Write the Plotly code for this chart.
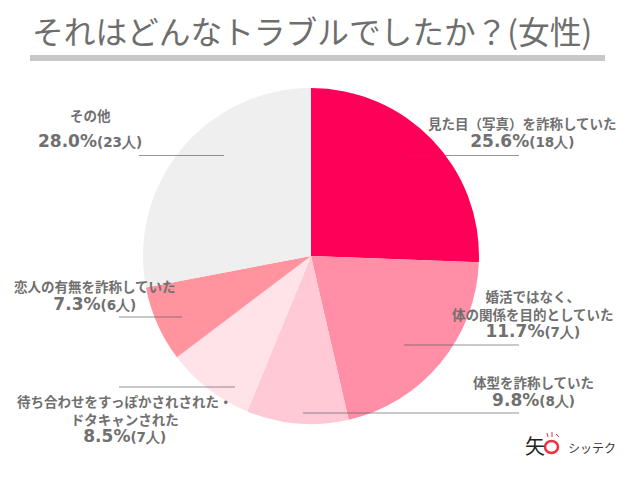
import plotly.graph_objects as go

# Slice sizes as drawn; the printed labels are kept separately since the
# second label (11.7%) does not match its wedge in the original chart
categories = ['見た目（写真）を詐称していた', '婚活ではなく、<br>体の関係を目的としていた', '体型を詐称していた',
              '待ち合わせをすっぽかされされた・<br>ドタキャンされた', '恋人の有無を詐称していた', 'その他']
values = [25.6, 20.8, 9.8, 8.5, 7.3, 28.0]
percent_labels = ['25.6%', '11.7%', '9.8%', '8.5%', '7.3%', '28.0%']
count_labels = ['(18人)', '(7人)', '(8人)', '(7人)', '(6人)', '(23人)']
colors = ['#ff0059', '#ff8ea6', '#ffc9d6', '#ffe3e9', '#ff949e', '#efefef']

W, H = 640, 499
FONT = 'Noto Sans CJK JP'
TEXT = '#707070'


def px(x):
    return x / W


def py(y):
    return 1 - y / H


# centre x and centre y of each label block
label_pos = [(522, 132), (533, 313), (533, 390.5), (124, 418), (95, 295), (90, 128)]
# leader line x from, x to, y
leaders = [(404, 519, 155.5), (404, 519, 345), (303, 519, 413), (119, 235, 387), (119, 182, 317), (139, 224, 155.5)]

fig = go.Figure(go.Pie(
    labels=categories,
    values=values,
    sort=False,
    direction='clockwise',
    rotation=0,
    textinfo='none',
    hoverinfo='label+percent',
    marker=dict(colors=colors, line=dict(width=0)),
    domain=dict(x=[px(143), px(479)], y=[py(424), py(88)]),
    showlegend=False,
))


def add_text(x, y, text, family=FONT, size=13.5, color=TEXT):
    fig.add_annotation(x=px(x), y=py(y), xref='paper', yref='paper', xanchor='center', yanchor='middle',
                       text=text, showarrow=False, align='center', borderpad=0,
                       font=dict(family=family, size=size, color=color))


def add_line(x0, x1, y0, y1, color, width=1):
    fig.add_shape(type='line', xref='paper', yref='paper', x0=px(x0), x1=px(x1), y0=py(y0), y1=py(y1),
                  line=dict(color=color, width=width))


fig.add_annotation(x=px(30), y=py(30), xref='paper', yref='paper', xanchor='left', yanchor='middle',
                   text='それはどんなトラブルでしたか？(女性)', showarrow=False,
                   font=dict(family=FONT, size=31.7, color='#6e6e6e'))
fig.add_shape(type='rect', xref='paper', yref='paper', x0=px(30), x1=px(605), y0=py(61), y1=py(55),
              fillcolor='#c8c8c8', line_width=0)

for cat, pct, cnt, (cx, cy), (x0, x1, ly) in zip(categories, percent_labels, count_labels, label_pos, leaders):
    pct_text = (f'<b><span style="font-family:DejaVu Sans;font-size:17px">{pct}</span>'
                f'<span style="font-family:DejaVu Sans;font-size:13.5px">{cnt}</span></b>')
    if cat == 'その他':
        # this one has a wider gap between its two lines
        add_text(cx, 115, f'<b>{cat}</b>')
        add_text(cx, 141, pct_text)
    else:
        add_text(cx, cy, f'<b>{cat}</b><br>{pct_text}')
    add_line(x0, x1, ly, ly, 'rgba(90,90,90,0.65)')

# small logo in the lower right corner
add_text(535, 445, '矢', size=20, color='#222222')
fig.add_shape(type='circle', xref='paper', yref='paper', x0=px(545), x1=px(558), y0=py(453), y1=py(441),
              fillcolor='#ffffff', line=dict(color='#f0323c', width=2.5))
for x0, x1, y0, y1 in [(547, 548, 433, 437), (552, 552, 432, 437), (556, 559, 434, 437)]:
    add_line(x0, x1, y0, y1, '#f0323c')
add_text(592, 447, 'シッテク', size=12, color='#333333')

fig.update_layout(width=W, height=H, margin=dict(l=0, r=0, t=0, b=0),
                  paper_bgcolor='white', plot_bgcolor='white')

fig.write_html("out.html", post_script="document.body.style.margin='0'", config=dict(displayModeBar=False))
